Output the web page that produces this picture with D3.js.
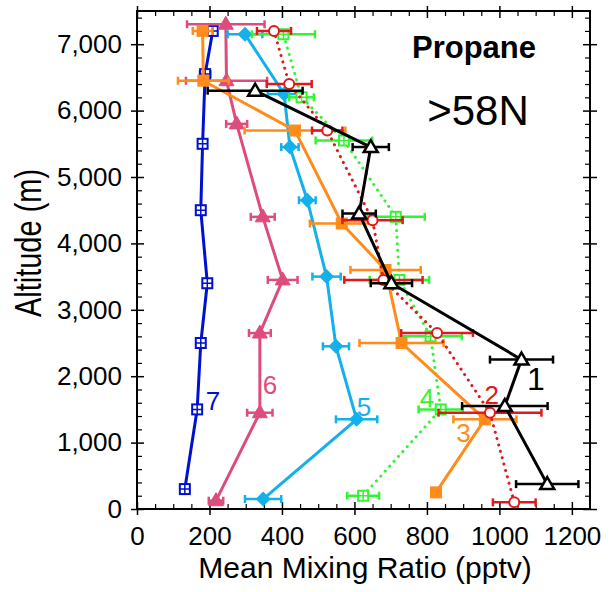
<!DOCTYPE html>
<meta charset="utf-8">
<body style="margin:0;background:#fff">
<style>
  text { font-family: "Liberation Sans", Arial, sans-serif; }
  .domain { display: none; }
</style>
<script src="https://d3js.org/d3.v7.min.js"></script>
<script>
// altitude (m), mean mixing ratio (pptv), error half-width (pptv)
var alt1 = [375, 1550, 2250, 3400, 4450, 5450, 6300];
var val1 = [1132, 1015, 1061, 702, 613, 645, 326];
var err1 = [86, 118, 87, 57, 46, 50, 131];

var alt2 = [100, 1450, 2650, 3450, 4350, 5700, 6400, 7200];
var val2 = [1041, 974, 828, 680, 650, 525, 420, 378];
var err2 = [59, 142, 99, 108, 83, 42, 62, 47];

var alt3 = [250, 1350, 2500, 3600, 4300, 5700, 6450, 7200];
var val3 = [825, 960, 730, 686, 565, 436, 183, 181];
var err3 = [8, 87, 116, 97, 88, 139, 70, 27];

var alt4 = [200, 1500, 2600, 3450, 4400, 5550, 6200, 7150];
var val4 = [624, 838, 810, 724, 714, 571, 454, 404];
var err4 = [44, 61, 86, 82, 80, 78, 34, 87];

var alt5 = [150, 1350, 2450, 3500, 4650, 5450, 6250, 7150];
var val5 = [348, 606, 549, 523, 470, 422, 406, 298];
var err5 = [50, 57, 36, 39, 23, 24, 45, 48];

var alt6 = [125, 1450, 2650, 3450, 4400, 5800, 6450, 7300];
var val6 = [218, 339, 339, 402, 347, 275, 247, 245];
var err6 = [20, 35, 30, 41, 33, 29, 112, 107];

var alt7 = [300, 1500, 2500, 3400, 4500, 5500, 6550, 7200];
var val7 = [132, 166, 176, 194, 176, 181, 188, 209];
var err7 = [8, 8, 10, 10, 8, 10, 14, 10];

var seriesNames = ["1", "2", "3", "4", "5", "6", "7"];
var xTicks = [0, 200, 400, 600, 800, 1000, 1200];
var yTicks = [0, 1000, 2000, 3000, 4000, 5000, 6000, 7000];

var colors = ["#000000", "#e0191e", "#ff8c1a", "#33f433", "#14b0ea", "#dd4d7c", "#0010d0"];
var markers = ["triOpen", "circle", "square", "boxCross", "diamond", "triFill", "boxCross"];
var dashed = [false, true, false, true, false, false, false];
// where the curve numbers sit (value, altitude)
var labelPos = [[1101, 1793], [979, 1582], [901, 1009], [800, 1537], [626, 1401], [367, 1733], [210, 1491]];

var width = 616, height = 592;
var x = d3.scaleLinear().domain([0, 1250]).range([137, 590]);
var y = d3.scaleLinear().domain([0, 7500]).range([509, 11]);

var svg = d3.select("body").append("svg")
  .attr("width", width)
  .attr("height", height);

var xMinor = d3.range(50, 1250, 50).filter(function(d) { return d % 200; });
var yMinor = d3.range(200, 7500, 200).filter(function(d) { return d % 1000; });

// axes
var gx = svg.append("g").attr("transform", "translate(0," + y(0) + ")")
  .call(d3.axisBottom(x).tickValues(xTicks).tickSize(6).tickPadding(12).tickFormat(d3.format("d")));
gx.selectAll(".tick line").attr("y1", -7).attr("stroke-width", 1.5);
gx.selectAll(".tick text").attr("font-size", 26).attr("fill", "#000");

var gxm = svg.append("g").attr("transform", "translate(0," + y(0) + ")")
  .call(d3.axisBottom(x).tickValues(xMinor).tickSize(-5).tickFormat(""));
gxm.selectAll(".tick line").attr("stroke-width", 1.2);

var gxt = svg.append("g").attr("transform", "translate(0," + y(7500) + ")")
  .call(d3.axisTop(x).tickValues(xTicks).tickSize(-7).tickFormat(""));
gxt.selectAll(".tick line").attr("y1", -5).attr("stroke-width", 1.5);
var gxtm = svg.append("g").attr("transform", "translate(0," + y(7500) + ")")
  .call(d3.axisTop(x).tickValues(xMinor).tickSize(-5).tickFormat(""));
gxtm.selectAll(".tick line").attr("stroke-width", 1.2);

var gy = svg.append("g").attr("transform", "translate(" + x(0) + ",0)")
  .call(d3.axisLeft(y).tickValues(yTicks).tickSize(6).tickPadding(9).tickFormat(d3.format(",")));
gy.selectAll(".tick line").attr("x1", 7).attr("stroke-width", 1.5);
gy.selectAll(".tick text").attr("font-size", 26).attr("fill", "#000");

var gym = svg.append("g").attr("transform", "translate(" + x(0) + ",0)")
  .call(d3.axisLeft(y).tickValues(yMinor).tickSize(-5).tickFormat(""));
gym.selectAll(".tick line").attr("stroke-width", 1.2);

var gyr = svg.append("g").attr("transform", "translate(" + x(1250) + ",0)")
  .call(d3.axisRight(y).tickValues(yTicks).tickSize(7).tickFormat(""));
gyr.selectAll(".tick line").attr("x1", -7).attr("stroke-width", 1.5);
var gyrm = svg.append("g").attr("transform", "translate(" + x(1250) + ",0)")
  .call(d3.axisRight(y).tickValues(yMinor).tickSize(-5).tickFormat(""));
gyrm.selectAll(".tick line").attr("stroke-width", 1.2);

svg.append("rect")
  .attr("x", x(0)).attr("y", y(7500))
  .attr("width", x(1250) - x(0)).attr("height", y(0) - y(7500))
  .attr("fill", "none").attr("stroke", "#000").attr("stroke-width", 2);

// axis titles
svg.append("text")
  .attr("x", 365).attr("y", 578)
  .attr("text-anchor", "middle").attr("font-size", 30)
  .text("Mean Mixing Ratio (pptv)");

svg.append("text")
  .attr("transform", "translate(41,243) rotate(-90) scale(1,1.3)")
  .attr("text-anchor", "middle").attr("font-size", 29)
  .text("Altitude (m)");

svg.append("text")
  .attr("x", 474).attr("y", 58)
  .attr("text-anchor", "middle").attr("font-size", 31).attr("font-weight", "bold")
  .text("Propane");

svg.append("text")
  .attr("x", 478).attr("y", 125)
  .attr("text-anchor", "middle").attr("font-size", 42)
  .text(">58N");

// series
var all = [
  [alt1, val1, err1], [alt2, val2, err2], [alt3, val3, err3], [alt4, val4, err4],
  [alt5, val5, err5], [alt6, val6, err6], [alt7, val7, err7]
];

var line = d3.line()
  .x(function(d) { return x(d.v); })
  .y(function(d) { return y(d.a); });

function drawMarker(g, type, col) {
  if (type == "triOpen") {
    g.append("path").attr("d", "M0,-7L7,5L-7,5Z").attr("fill", "#fff").attr("stroke", col).attr("stroke-width", 2.5);
  } else if (type == "triFill") {
    g.append("path").attr("d", "M0,-8L7.5,5L-7.5,5Z").attr("fill", col).attr("stroke", col).attr("stroke-width", 1);
  } else if (type == "circle") {
    g.append("circle").attr("r", 5).attr("fill", "#fff").attr("stroke", col).attr("stroke-width", 2);
  } else if (type == "square") {
    g.append("rect").attr("x", -6).attr("y", -6).attr("width", 12).attr("height", 12).attr("fill", col);
  } else if (type == "diamond") {
    g.append("path").attr("d", "M0,-7.5L7.5,0L0,7.5L-7.5,0Z").attr("fill", col);
  } else if (type == "boxCross") {
    g.append("rect").attr("x", -5).attr("y", -5).attr("width", 10).attr("height", 10)
      .attr("fill", "#fff").attr("stroke", col).attr("stroke-width", 2);
    g.append("path").attr("d", "M0,-5V5M-5,0H5").attr("stroke", col).attr("stroke-width", 1.5);
  }
}

for (var s = all.length - 1; s >= 0; s--) {
  var col = colors[s];
  var pts = all[s][0].map(function(a, i) {
    return { a: a, v: all[s][1][i], e: all[s][2][i] };
  });
  var g = svg.append("g");

  g.append("path")
    .datum(pts)
    .attr("d", line)
    .attr("fill", "none")
    .attr("stroke", col)
    .attr("stroke-width", 3)
    .attr("stroke-linecap", dashed[s] ? "round" : "butt")
    .attr("stroke-dasharray", dashed[s] ? "0.1,6.5" : null);

  pts.forEach(function(d) {
    var yy = y(d.a);
    g.append("line")
      .attr("x1", x(d.v - d.e)).attr("x2", x(d.v + d.e))
      .attr("y1", yy).attr("y2", yy)
      .attr("stroke", col).attr("stroke-width", 2.5);
    [d.v - d.e, d.v + d.e].forEach(function(v) {
      g.append("line")
        .attr("x1", x(v)).attr("x2", x(v))
        .attr("y1", yy - 4).attr("y2", yy + 4)
        .attr("stroke", col).attr("stroke-width", 2.5);
    });
    var m = g.append("g").attr("transform", "translate(" + x(d.v) + "," + yy + ")");
    drawMarker(m, markers[s], col);
  });

  svg.append("text")
    .attr("x", x(labelPos[s][0])).attr("y", y(labelPos[s][1]))
    .attr("text-anchor", "middle")
    .attr("font-size", s == 0 ? 32 : 26)
    .attr("fill", col)
    .text(seriesNames[s]);
}
</script>
</body>
